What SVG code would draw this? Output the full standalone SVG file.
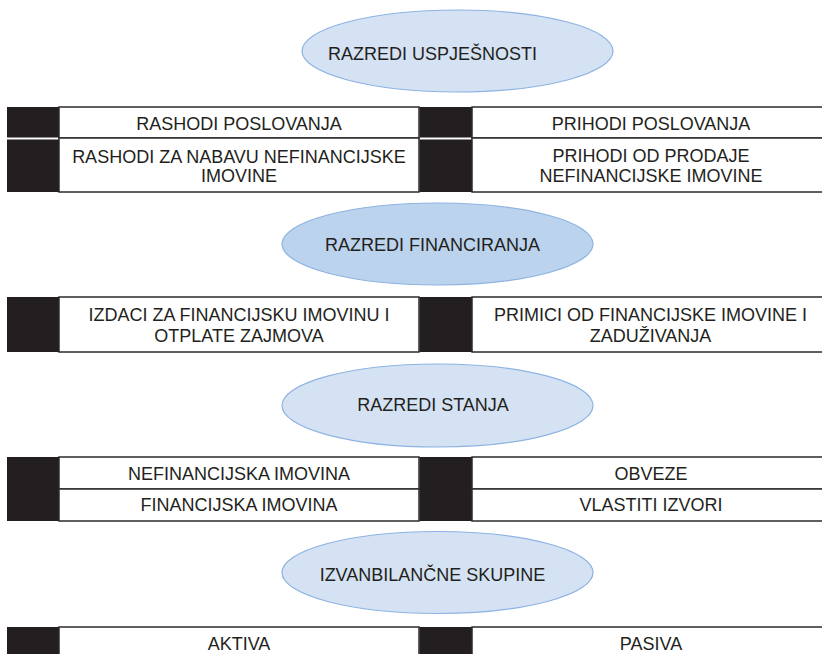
<svg xmlns="http://www.w3.org/2000/svg" width="822" height="654" viewBox="0 0 822 654">
<style>
text{font-family:"Liberation Sans",Arial,sans-serif;font-size:18px;fill:#231f20;text-anchor:middle}
.el{fill:#d5e2f3;stroke:#8db3e2;stroke-width:1.2}
.el2{fill:#bcd3ed;stroke:#8db3e2;stroke-width:1.2}
.blk{fill:#231f20}
.cell{fill:#fff;stroke:#2b2b2b;stroke-width:1.5}
</style>
<rect width="822" height="654" fill="#fff"/>
<g id="ell-uspjesnosti"><ellipse class="el" cx="457.5" cy="51" rx="155.5" ry="41"/><text x="432.5" y="60">RAZREDI USPJEŠNOSTI</text></g>
<g id="ell-financiranja"><ellipse class="el2" cx="437.5" cy="244" rx="155.5" ry="41"/><text x="432.5" y="251">RAZREDI FINANCIRANJA</text></g>
<g id="ell-stanja"><ellipse class="el" cx="437.5" cy="405.5" rx="155.5" ry="41.5"/><text x="433" y="411">RAZREDI STANJA</text></g>
<g id="ell-izvanbilancne"><ellipse class="el" cx="437.5" cy="572.5" rx="155.5" ry="41"/><text x="432.5" y="581">IZVANBILANČNE SKUPINE</text></g>

<g id="r1-left-a"><rect class="blk" x="7" y="107" width="52" height="30.5"/><rect class="cell" x="59" y="107" width="360" height="31"/><text x="239" y="130">RASHODI POSLOVANJA</text></g>
<g id="r1-left-b"><rect class="blk" x="7" y="139.5" width="52" height="52.5"/><rect class="cell" x="59" y="138" width="360" height="54"/><text x="239" y="162.5">RASHODI ZA NABAVU NEFINANCIJSKE</text><text x="239" y="182">IMOVINE</text></g>
<g id="r1-right-a"><rect class="blk" x="419.5" y="107" width="52.5" height="30.5"/><rect class="cell" x="472" y="107" width="360" height="31"/><text x="651" y="130">PRIHODI POSLOVANJA</text></g>
<g id="r1-right-b"><rect class="blk" x="419.5" y="139.5" width="52.5" height="52.5"/><rect class="cell" x="472" y="138" width="360" height="54"/><text x="651" y="162">PRIHODI OD PRODAJE</text><text x="651" y="182">NEFINANCIJSKE IMOVINE</text></g>

<g id="r2-left"><rect class="blk" x="7" y="297" width="52" height="55"/><rect class="cell" x="59" y="297" width="360" height="55"/><text x="239" y="321">IZDACI ZA FINANCIJSKU IMOVINU I</text><text x="239" y="342">OTPLATE ZAJMOVA</text></g>
<g id="r2-right"><rect class="blk" x="419.5" y="297" width="52.5" height="55"/><rect class="cell" x="472" y="297" width="360" height="55"/><text x="650.5" y="321">PRIMICI OD FINANCIJSKE IMOVINE I</text><text x="650.5" y="342">ZADUŽIVANJA</text></g>

<g id="r3-left"><rect class="blk" x="7" y="457" width="52" height="64"/><rect class="cell" x="59" y="457" width="360" height="32"/><text x="239" y="480">NEFINANCIJSKA IMOVINA</text><rect class="cell" x="59" y="489" width="360" height="32"/><text x="239" y="511">FINANCIJSKA IMOVINA</text></g>
<g id="r3-right"><rect class="blk" x="419.5" y="457" width="52.5" height="64"/><rect class="cell" x="472" y="457" width="360" height="32"/><text x="651" y="480">OBVEZE</text><rect class="cell" x="472" y="489" width="360" height="32"/><text x="651" y="511">VLASTITI IZVORI</text></g>

<g id="r4-left"><rect class="blk" x="7" y="627" width="52" height="40"/><rect class="cell" x="59" y="627" width="360" height="40"/><text x="239" y="650">AKTIVA</text></g>
<g id="r4-right"><rect class="blk" x="419.5" y="627" width="52.5" height="40"/><rect class="cell" x="472" y="627" width="360" height="40"/><text x="651" y="650">PASIVA</text></g>
<g id="connectors"/>
</svg>
